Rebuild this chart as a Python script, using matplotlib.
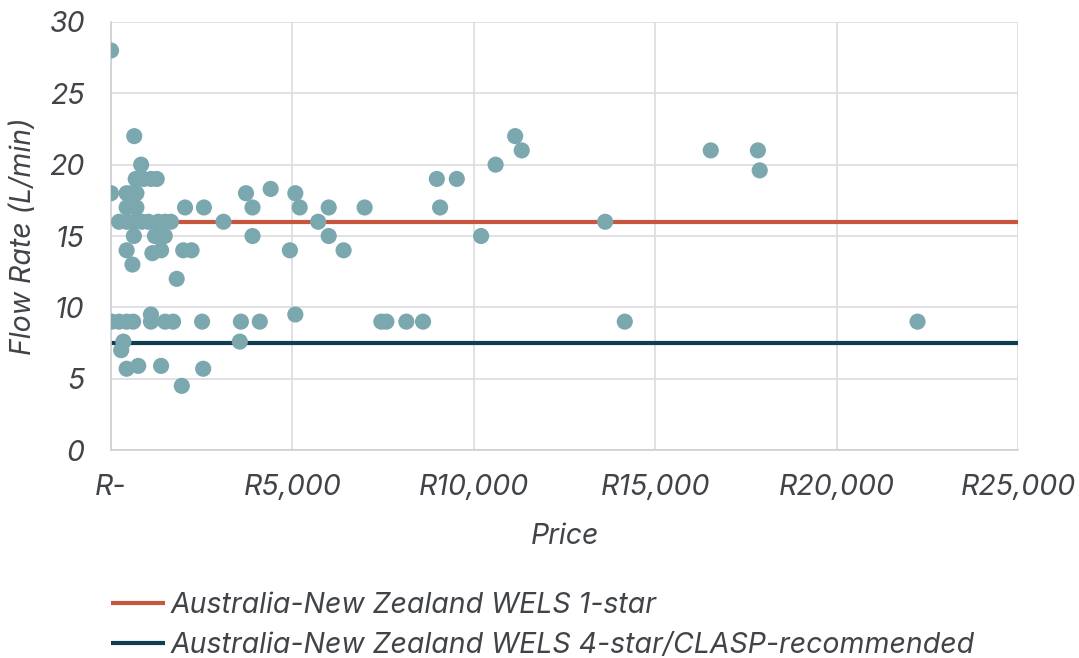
import numpy as np
import matplotlib
matplotlib.use('Agg')
import matplotlib.pyplot as plt
from matplotlib.ticker import FuncFormatter

plt.rcParams['font.family'] = ['Inter', 'DejaVu Sans']

# Data: price (Rand) and flow rate (L/min)
price = [0, 640, 830,
         680, 900, 1100, 1260,
         0, 430, 560, 700,
         430, 700, 2040, 2560,
         220, 430, 640, 850, 1030, 1300, 1490, 1650, 3100,
         630, 1210, 1480,
         430, 1140, 1380, 1990, 2220,
         590, 1810,
         20, 220, 430, 610, 1100, 1100, 1490, 1710, 2510,
         340, 280,
         430, 750, 1380, 2540, 1950,
         3720, 3900, 3900, 4400, 5080, 5200, 4930, 5710, 6000, 6000, 6410, 6990,
         3580, 4100, 3550, 5080, 7450, 7590, 8140, 8600,
         8980, 9530, 9070, 11140, 11320, 10600, 10200, 13620, 14160,
         16530, 17830, 17880, 22230]
flow = [28, 22, 20,
        19, 19, 19, 19,
        18, 18, 18, 18,
        17, 17, 17, 17,
        16, 16, 16, 16, 16, 16, 16, 16, 16,
        15, 15, 15,
        14, 13.8, 14, 14, 14,
        13, 12,
        9, 9, 9, 9, 9.5, 9, 9, 9, 9,
        7.6, 7,
        5.7, 5.9, 5.9, 5.7, 4.5,
        18, 17, 15, 18.3, 18, 17, 14, 16, 17, 15, 14, 17,
        9, 9, 7.6, 9.5, 9, 9, 9, 9,
        19, 19, 17, 22, 21, 20, 15, 16, 9,
        21, 21, 19.6, 9]

wels1 = 16.0   # 1-star
wels4 = 7.5    # 4-star / CLASP
xmax = 25000

txt = '#404348'
grid = '#DCDCE0'
fs = 20.5

fig = plt.figure(figsize=(10.79, 6.58), dpi=100)
ax = fig.add_axes([0.1029, 0.316, 0.8406, 0.6506])

l1, = ax.plot([0, xmax], [wels1, wels1], color='#C8553D', lw=3, zorder=2,
              label='Australia-New Zealand WELS 1-star', solid_capstyle='butt')
l2, = ax.plot([0, xmax], [wels4, wels4], color='#0F3E50', lw=3, zorder=2,
              label='Australia-New Zealand WELS 4-star/CLASP-recommended', solid_capstyle='butt')
ax.scatter(price, flow, s=135, color='#7BA7AF', edgecolors='none', zorder=3)

ax.set_xlim(0, xmax)
ax.set_ylim(0, 30)
ax.set_xticks(np.arange(0, 25001, 5000))
ax.set_yticks(np.arange(0, 31, 5))
ax.xaxis.set_major_formatter(FuncFormatter(lambda v, p: 'R-' if v == 0 else 'R{:,.0f}'.format(v)))
ax.grid(True, color=grid, lw=1.2)
ax.set_axisbelow(True)
for s in ['top', 'right']:
    ax.spines[s].set_visible(False)
for s in ['left', 'bottom']:
    ax.spines[s].set_color('#CFCFD4')
    ax.spines[s].set_linewidth(1.2)
ax.tick_params(length=0, labelsize=fs, colors=txt)
ax.tick_params(axis='y', pad=19)
ax.tick_params(axis='x', pad=17)
for lab in ax.get_xticklabels() + ax.get_yticklabels():
    lab.set_fontstyle('italic')

ax.set_xlabel('Price', fontsize=fs, style='italic', color=txt, labelpad=16)
ax.set_ylabel('Flow Rate (L/min)', fontsize=fs, style='italic', color=txt, labelpad=9)

leg = fig.legend(handles=[l1, l2], loc='upper left', bbox_to_anchor=(0.1029, 1 - 592 / 658),
                 frameon=False, fontsize=fs, handlelength=1.9, handletextpad=0.18,
                 labelspacing=0.45, borderpad=0, borderaxespad=0)
for t in leg.get_texts():
    t.set_fontstyle('italic')
    t.set_color(txt)

fig.savefig('out.png', dpi=100)
